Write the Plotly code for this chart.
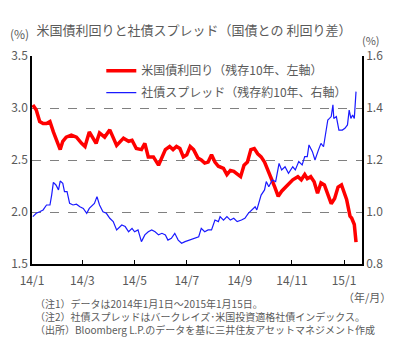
import plotly.graph_objects as go

# ---- data ----
ust_dates = ["2014-01-02","2014-01-06","2014-01-10","2014-01-14","2014-01-18","2014-01-22","2014-01-26","2014-01-30",
             "2014-02-03","2014-02-06","2014-02-10","2014-02-16","2014-02-22","2014-02-28","2014-03-04","2014-03-09",
             "2014-03-13","2014-03-17","2014-03-21","2014-03-27","2014-04-02","2014-04-06","2014-04-10","2014-04-18",
             "2014-04-24","2014-04-28","2014-05-03","2014-05-09","2014-05-13","2014-05-17","2014-05-23","2014-05-29",
             "2014-06-02","2014-06-06","2014-06-11","2014-06-15","2014-06-19","2014-06-23","2014-06-27","2014-07-01",
             "2014-07-05","2014-07-09","2014-07-14","2014-07-18","2014-07-22","2014-07-26","2014-07-30","2014-08-03",
             "2014-08-07","2014-08-13","2014-08-17","2014-08-21","2014-08-25","2014-08-29","2014-09-02","2014-09-06",
             "2014-09-10","2014-09-14","2014-09-18","2014-09-22","2014-09-26","2014-09-30","2014-10-04","2014-10-08",
             "2014-10-12","2014-10-16","2014-10-20","2014-10-27","2014-11-02","2014-11-08","2014-11-12","2014-11-16",
             "2014-11-19","2014-11-23","2014-11-27","2014-12-01","2014-12-05","2014-12-09","2014-12-13","2014-12-17",
             "2014-12-21","2014-12-25","2014-12-29","2015-01-01","2015-01-04","2015-01-08","2015-01-10","2015-01-13",
             "2015-01-15"]
ust_yield = [3.03,2.98,2.87,2.85,2.85,2.87,2.77,2.69,
             2.60,2.68,2.72,2.74,2.72,2.66,2.63,2.77,
             2.72,2.66,2.76,2.72,2.79,2.71,2.64,2.71,
             2.68,2.69,2.61,2.60,2.66,2.53,2.53,2.45,
             2.52,2.60,2.63,2.60,2.63,2.61,2.53,2.55,
             2.63,2.60,2.52,2.50,2.47,2.48,2.55,2.48,
             2.44,2.42,2.36,2.40,2.39,2.36,2.34,2.45,
             2.48,2.60,2.61,2.56,2.53,2.48,2.39,2.32,
             2.24,2.15,2.20,2.26,2.31,2.34,2.31,2.36,
             2.32,2.34,2.29,2.18,2.28,2.26,2.16,2.08,
             2.13,2.24,2.26,2.20,2.12,1.96,1.94,1.88,
             1.71]

spread_dates = ["2014-01-02","2014-01-06","2014-01-10","2014-01-14","2014-01-18","2014-01-22","2014-01-24","2014-01-26",
                "2014-01-29","2014-02-01","2014-02-03","2014-02-06","2014-02-08","2014-02-11","2014-02-14","2014-02-18",
                "2014-02-22","2014-02-26","2014-03-02","2014-03-06","2014-03-09","2014-03-15","2014-03-18","2014-03-21",
                "2014-03-25","2014-03-29","2014-04-02","2014-04-06","2014-04-10","2014-04-16","2014-04-20","2014-04-24",
                "2014-04-28","2014-05-01","2014-05-05","2014-05-09","2014-05-13","2014-05-17","2014-05-21","2014-05-25",
                "2014-05-29","2014-06-02","2014-06-06","2014-06-09","2014-06-13","2014-06-17","2014-06-21","2014-06-25",
                "2014-06-29","2014-07-05","2014-07-11","2014-07-15","2014-07-18","2014-07-22","2014-07-26","2014-07-30",
                "2014-08-03","2014-08-07","2014-08-09","2014-08-13","2014-08-17","2014-08-21","2014-08-25","2014-08-29",
                "2014-09-03","2014-09-07","2014-09-11","2014-09-15","2014-09-19","2014-09-21","2014-09-26","2014-09-30",
                "2014-10-02","2014-10-05","2014-10-09","2014-10-13","2014-10-17","2014-10-20","2014-10-24","2014-10-28",
                "2014-11-02","2014-11-05","2014-11-09","2014-11-13","2014-11-16","2014-11-19","2014-11-21","2014-11-25",
                "2014-11-28","2014-12-02","2014-12-05","2014-12-08","2014-12-11","2014-12-13","2014-12-15","2014-12-17",
                "2014-12-19","2014-12-20","2014-12-23","2014-12-26","2014-12-30","2015-01-02","2015-01-05","2015-01-07",
                "2015-01-09","2015-01-11","2015-01-13","2015-01-14","2015-01-15"]
spread = [0.982,0.995,1.001,1.008,1.027,1.027,1.065,1.114,
          1.104,1.085,1.119,1.110,1.078,1.078,1.033,1.027,
          1.030,1.020,1.014,0.995,1.014,1.033,1.059,1.027,
          1.001,0.995,0.976,0.963,0.931,0.950,0.944,0.924,
          0.937,0.924,0.931,0.886,0.912,0.924,0.931,0.924,
          0.912,0.918,0.912,0.892,0.899,0.918,0.892,0.880,
          0.886,0.892,0.899,0.905,0.937,0.924,0.931,0.931,
          0.969,0.963,0.982,0.969,0.982,0.969,0.976,0.963,
          0.969,0.976,0.995,1.008,1.020,1.008,1.065,1.085,
          1.117,1.097,1.123,1.117,1.187,1.162,1.174,1.149,
          1.174,1.162,1.194,1.181,1.213,1.213,1.258,1.232,
          1.200,1.238,1.264,1.251,1.309,1.354,1.360,1.367,
          1.412,1.360,1.367,1.315,1.315,1.322,1.335,1.392,
          1.360,1.373,1.360,1.412,1.463]

x_tick_vals = ["2014-01-01","2014-03-01","2014-05-01","2014-07-01","2014-09-01","2014-11-01","2015-01-01"]
x_tick_text = ["14/1","14/3","14/5","14/7","14/9","14/11","15/1"]

name_ust = "米国債利回り（残存10年、左軸）"
name_spread = "社債スプレッド（残存約10年、右軸）"
title_text = "米国債利回りと社債スプレッド（国債との 利回り差）"
notes = ["（注1）データは2014年1月1日～2015年1月15日。",
         "（注2）社債スプレッドはバークレイズ･米国投資適格社債インデックス。",
         "（出所）Bloomberg L.P.のデータを基に三井住友アセットマネジメント作成"]

FONT = "Noto Sans CJK JP"
GRAY = "#5a5a5a"

fig = go.Figure()
fig.add_trace(go.Scatter(x=ust_dates, y=ust_yield, mode="lines", name=name_ust,
                         line=dict(color="#ff0000", width=3.5), yaxis="y", legendgroup="a"))
fig.add_trace(go.Scatter(x=spread_dates, y=spread, mode="lines", name=name_spread,
                         line=dict(color="#1a1aff", width=1.2), yaxis="y2", legendgroup="b"))

fig.update_layout(
    width=408, height=344,
    margin=dict(l=32, r=46, t=56, b=80),
    paper_bgcolor="white", plot_bgcolor="white",
    font=dict(family=FONT, size=12, color=GRAY),
    title=dict(text=title_text, x=194/408, y=1-30/344, xanchor="center", yanchor="middle",
               font=dict(family=FONT, size=13, color=GRAY)),
    showlegend=True,
    legend=dict(x=0.21, y=0.999, xanchor="left", yanchor="top", bgcolor="rgba(0,0,0,0)",
                font=dict(family=FONT, size=12, color=GRAY), tracegroupgap=3,
                itemwidth=30),
    xaxis=dict(type="date", range=["2014-01-01", "2015-01-22"],
               tickvals=x_tick_vals, ticktext=x_tick_text,
               ticks="inside", ticklen=4, tickcolor="black", tickwidth=1,
               ticklabelstandoff=5,
               showline=True, linecolor="black", linewidth=1.5,
               showgrid=False, zeroline=False,
               tickfont=dict(family=FONT, size=12, color=GRAY)),
    yaxis=dict(range=[1.5, 3.5], dtick=0.5, tick0=1.5, tickformat=".1f",
               showline=True, linecolor="black", linewidth=1.5,
               showgrid=True, gridcolor="#808080", griddash="dash", gridwidth=1,
               zeroline=False, ticks="",
               tickfont=dict(family=FONT, size=12, color=GRAY)),
    yaxis2=dict(range=[0.8, 1.6], dtick=0.2, tick0=0.8, tickformat=".1f",
                overlaying="y", side="right",
                showline=True, linecolor="black", linewidth=1.5,
                showgrid=False, zeroline=False, ticks="",
                tickfont=dict(family=FONT, size=12, color=GRAY)),
)

ann = [
    dict(text="(%)", x=-0.039, y=1.106, xanchor="center", yanchor="middle", font=dict(size=12)),
    dict(text="(%)", x=1.027, y=(264-40)/208, xanchor="center", yanchor="middle", font=dict(size=11)),
    dict(text="（年/月）", x=(367-32)/330, y=(264-297)/208, xanchor="center", yanchor="middle", font=dict(size=11)),
    dict(text="<br>".join(notes), x=0.003, y=(264-316)/208, xanchor="left", yanchor="middle",
         align="left", font=dict(size=10)),
]
for a in ann:
    a.update(xref="paper", yref="paper", showarrow=False)
    a["font"] = dict(family=FONT, color=GRAY, **a["font"])
fig.update_layout(annotations=ann)

fig.write_html("out.html")
